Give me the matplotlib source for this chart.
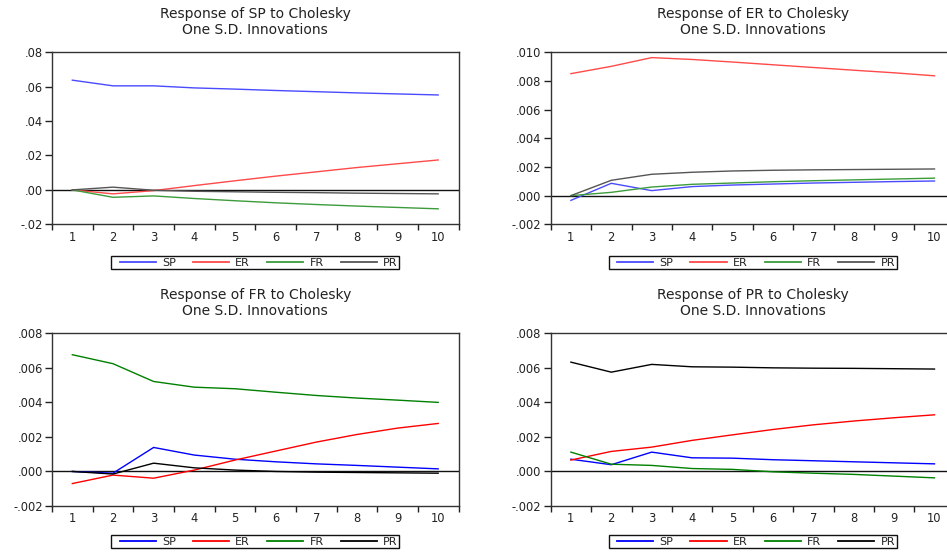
import matplotlib
matplotlib.use("Agg")
import matplotlib.pyplot as plt
from matplotlib.ticker import FixedLocator, FuncFormatter
from matplotlib.lines import Line2D
from matplotlib.legend_handler import HandlerLine2D

plt.rcParams['font.family'] = ['DejaVu Sans']

periods = [1, 2, 3, 4, 5, 6, 7, 8, 9, 10]
shock_names = ["SP", "ER", "FR", "PR"]

# Response of SP
sp_to_sp = [0.0638, 0.0605, 0.0605, 0.0593, 0.0586, 0.0578, 0.0571, 0.0564, 0.0558, 0.0552]
sp_to_er = [0.0, -0.0023, -0.0004, 0.0025, 0.0053, 0.0080, 0.0105, 0.0130, 0.0152, 0.0174]
sp_to_fr = [0.0, -0.0043, -0.0035, -0.0050, -0.0063, -0.0075, -0.0085, -0.0094, -0.0102, -0.0110]
sp_to_pr = [0.0, 0.0016, -0.0002, -0.0008, -0.0011, -0.0014, -0.0016, -0.0019, -0.0021, -0.0023]

# Response of ER
er_to_sp = [-0.00033, 0.00086, 0.00035, 0.00063, 0.00074, 0.00081, 0.00088, 0.00093, 0.00098, 0.00102]
er_to_er = [0.00851, 0.00902, 0.00963, 0.00950, 0.00932, 0.00913, 0.00894, 0.00875, 0.00857, 0.00836]
er_to_fr = [0.0, 0.00023, 0.00060, 0.00079, 0.00088, 0.00097, 0.00104, 0.00110, 0.00116, 0.00122]
er_to_pr = [0.0, 0.00107, 0.00149, 0.00163, 0.00172, 0.00177, 0.00180, 0.00182, 0.00184, 0.00186]

# Response of FR
fr_to_sp = [0.0, -0.00010, 0.00139, 0.00095, 0.00071, 0.00056, 0.00044, 0.00035, 0.00025, 0.00015]
fr_to_er = [-0.00070, -0.00021, -0.00039, 0.00008, 0.00066, 0.00118, 0.00170, 0.00214, 0.00251, 0.00278]
fr_to_fr = [0.00676, 0.00624, 0.00521, 0.00488, 0.00479, 0.00459, 0.00440, 0.00425, 0.00413, 0.00400]
fr_to_pr = [0.0, -0.00015, 0.00048, 0.00021, 0.00008, 0.0, -0.00004, -0.00006, -0.00008, -0.00010]

# Response of PR
pr_to_sp = [0.00071, 0.00039, 0.00112, 0.00079, 0.00077, 0.00068, 0.00062, 0.00056, 0.00050, 0.00044]
pr_to_er = [0.00066, 0.00116, 0.00141, 0.00180, 0.00212, 0.00243, 0.00270, 0.00292, 0.00311, 0.00328]
pr_to_fr = [0.00112, 0.00042, 0.00035, 0.00017, 0.00012, -0.00002, -0.00010, -0.00017, -0.00027, -0.00037]
pr_to_pr = [0.00633, 0.00575, 0.00620, 0.00606, 0.00604, 0.00600, 0.00598, 0.00597, 0.00595, 0.00593]

panel_titles = ["Response of SP to Cholesky\nOne S.D. Innovations",
                "Response of ER to Cholesky\nOne S.D. Innovations",
                "Response of FR to Cholesky\nOne S.D. Innovations",
                "Response of PR to Cholesky\nOne S.D. Innovations"]
panel_series = [[sp_to_sp, sp_to_er, sp_to_fr, sp_to_pr],
                [er_to_sp, er_to_er, er_to_fr, er_to_pr],
                [fr_to_sp, fr_to_er, fr_to_fr, fr_to_pr],
                [pr_to_sp, pr_to_er, pr_to_fr, pr_to_pr]]
panel_yticks = [[-0.02, 0.00, 0.02, 0.04, 0.06, 0.08],
                [-0.002, 0.000, 0.002, 0.004, 0.006, 0.008, 0.010],
                [-0.002, 0.000, 0.002, 0.004, 0.006, 0.008],
                [-0.002, 0.000, 0.002, 0.004, 0.006, 0.008]]
panel_decimals = [2, 3, 3, 3]

top_colors = ['#4a4aff', '#ff4a4a', '#3c9c3c', '#555555']
bottom_colors = ['#0000ff', '#ff0000', '#008000', '#000000']

W, H = 947.0, 558.0
fig = plt.figure(figsize=(W / 100, H / 100), dpi=100)

rects = [
    [52.0 / W, 1 - 224.3 / H, 406.5 / W, 172.0 / H],
    [550.7 / W, 1 - 224.3 / H, 404.0 / W, 172.0 / H],
    [52.0 / W, 1 - 506.0 / H, 406.5 / W, 172.7 / H],
    [550.7 / W, 1 - 506.0 / H, 404.0 / W, 172.7 / H],
]
legend_offsets = [-0.184, -0.184, -0.168, -0.168]

text_color = '#222222'

def make_fmt(dec):
    def f(v, pos):
        s = f"{v:.{dec}f}"
        if s.startswith("-0"):
            s = "-" + s[2:]
        elif s.startswith("0"):
            s = s[1:]
        return s
    return f

for i in range(4):
    ax = fig.add_axes(rects[i])
    colors = top_colors if i < 2 else bottom_colors
    for j, series in enumerate(panel_series[i]):
        ax.plot(periods, series, color=colors[j], lw=1.0, label=shock_names[j],
                solid_joinstyle='miter')
    ax.axhline(0.0, color='#111111', lw=1.0, zorder=1)
    yt = panel_yticks[i]
    ax.set_ylim(yt[0], yt[-1])
    ax.set_xlim(0.5, 10.5)
    ax.yaxis.set_major_locator(FixedLocator(yt))
    ax.yaxis.set_major_formatter(FuncFormatter(make_fmt(panel_decimals[i])))
    ax.xaxis.set_major_locator(FixedLocator(periods))
    ax.xaxis.set_minor_locator(FixedLocator([p - 0.5 for p in periods] + [10.5]))
    ax.tick_params(axis='x', which='major', length=0, pad=4.5, labelsize=8.3, labelcolor=text_color)
    ax.tick_params(axis='x', which='minor', length=4.5, width=1.0, color='#222222', direction='out')
    ax.tick_params(axis='y', which='major', length=5.0, width=1.0, pad=1.6, labelsize=8.3,
                   labelcolor=text_color, color='#222222', direction='out')
    for sp in ax.spines.values():
        sp.set_linewidth(1.0)
        sp.set_color('#333333')
    ax.set_title(panel_titles[i], fontsize=10, color=text_color, pad=13.5, linespacing=1.15)
    handles = [Line2D([], [], color=c, lw=1.3) for c in colors]
    leg = ax.legend(handles, shock_names, loc='upper center', bbox_to_anchor=(0.5, legend_offsets[i]),
                    ncol=4, fontsize=8, frameon=True, fancybox=False, shadow=False,
                    borderpad=0.15, handlelength=3.85, handletextpad=0.55, columnspacing=0.95,
                    borderaxespad=0.0, handler_map={Line2D: HandlerLine2D(xpad=0.6)})
    fr = leg.get_frame()
    fr.set_edgecolor('#111111')
    fr.set_linewidth(1.0)
    fr.set_alpha(1.0)
    for t in leg.get_texts():
        t.set_color(text_color)

fig.savefig("out.png", dpi=100)
